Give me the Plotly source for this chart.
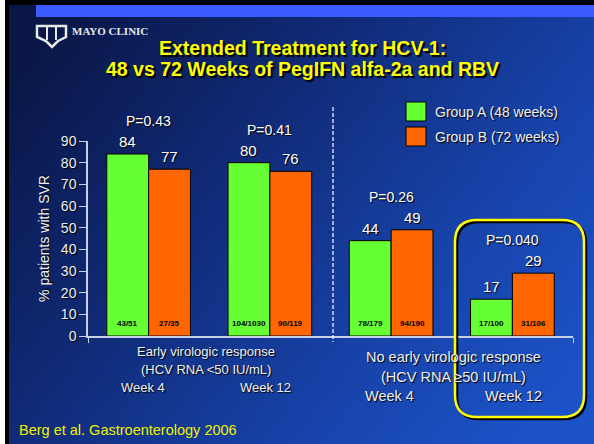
import base64
import plotly.graph_objects as go

# ---------------- data ----------------
groups = ["EVR Week 4", "EVR Week 12", "No EVR Week 4", "No EVR Week 12"]
series_names = ["Group A (48 weeks)", "Group B (72 weeks)"]
group_a = [84, 80, 44, 17]
group_b = [77, 76, 49, 29]
frac_a = ["43/51", "104/1030", "78/179", "17/100"]
frac_b = ["27/35", "90/119", "94/190", "31/106"]
p_values = ["P=0.43", "P=0.41", "P=0.26", "P=0.040"]
y_ticks = [0, 10, 20, 30, 40, 50, 60, 70, 80, 90]
xpos = [0, 1, 2, 3]

GREEN = "#66ff33"
ORANGE = "#ff6600"
FONT = "Arial, Liberation Sans, sans-serif"
SHADOW = "1px 1px 1px #000000"

W, H = 594, 444
L, R, T, B = 88, 21, 141, 108
PW, PH = W - L - R, H - T - B


def px(x):
    return (x - L) / PW


def py(y):
    return (H - B - y) / PH


bargap = 0.31
off = (1 - bargap) / 4

fig = go.Figure()
fig.add_trace(go.Bar(x=xpos, y=group_a, name=series_names[0],
                     marker=dict(color=GREEN, line=dict(color="#000000", width=1)),
                     showlegend=False))
fig.add_trace(go.Bar(x=xpos, y=group_b, name=series_names[1],
                     marker=dict(color=ORANGE, line=dict(color="#000000", width=1)),
                     showlegend=False))

ann = []
for i, x in enumerate(xpos):
    for val, frac, dx in ((group_a[i], frac_a[i], -off), (group_b[i], frac_b[i], off)):
        ann.append(dict(x=x + dx, y=val, xref="x", yref="y", text=str(val),
                        showarrow=False, yanchor="bottom", yshift=2,
                        font=dict(family=FONT, size=15, color="#ffffff", shadow=SHADOW)))
        ann.append(dict(x=x + dx, y=0, xref="x", yref="y", text="<b>%s</b>" % frac,
                        showarrow=False, yanchor="middle", yshift=13,
                        font=dict(family=FONT, size=8, color="#000000")))
    ann.append(dict(x=x, y=max(group_a[i], group_b[i]), xref="x", yref="y",
                    text=p_values[i], showarrow=False, yanchor="middle", yshift=33,
                    font=dict(family=FONT, size=14, color="#ffffff", shadow=SHADOW)))


def ptext(x, y, text, size, color="#ffffff", xanchor="center", shadow=SHADOW, family=FONT):
    ann.append(dict(x=px(x), y=py(y), xref="paper", yref="paper", text=text,
                    showarrow=False, xanchor=xanchor, yanchor="middle",
                    font=dict(family=family, size=size, color=color, shadow=shadow)))


# titles
ptext(302, 48, "<b>Extended Treatment for HCV-1:</b>", 19.5, "#ffff00", shadow="2px 2px 1px #000000")
ptext(302, 69, "<b>48 vs 72 Weeks of PegIFN alfa-2a and RBV</b>", 19.5, "#ffff00", shadow="2px 2px 1px #000000")
# logo text
ptext(70, 31, "<b>MAYO CLINIC</b>", 11, "#e8e8e8", xanchor="left", shadow="none",
      family="Liberation Serif, DejaVu Serif, serif")
# category labels
ptext(206, 351, "Early virologic response", 13, "#f0f0f0")
ptext(206, 369, "(HCV RNA &lt;50 IU/mL)", 13, "#f0f0f0")
ptext(143, 387, "Week 4", 13, "#f0f0f0")
ptext(265, 387, "Week 12", 13, "#f0f0f0")
ptext(453, 357, "No early virologic response", 14.5, "#f0f0f0")
ptext(453, 377, "(HCV RNA \u226550 IU/mL)", 14.5, "#f0f0f0")
ptext(389, 396, "Week 4", 14.5, "#f0f0f0")
ptext(513, 396, "Week 12", 14.5, "#f0f0f0")
# legend text
ptext(433, 112, series_names[0], 14, "#f0f0f0", xanchor="left")
ptext(433, 137, series_names[1], 14, "#f0f0f0", xanchor="left")
# footer
ptext(17, 430, "Berg et al. Gastroenterology 2006", 14.5, "#f0f000", xanchor="left", shadow="none")

shapes = []


def prect(x0, y0, x1, y1, fill, line=None, lw=0):
    shapes.append(dict(type="rect", xref="paper", yref="paper",
                       x0=px(x0), x1=px(x1), y0=py(y1), y1=py(y0),
                       fillcolor=fill, line=dict(color=line or fill, width=lw), layer="above"))


# legend swatches
prect(406, 102, 426, 121, GREEN, "#000000", 1)
prect(406, 127, 426, 146, ORANGE, "#000000", 1)

# dashed divider
shapes.append(dict(type="line", xref="paper", yref="paper", x0=px(333), x1=px(333),
                   y0=py(107), y1=py(342), line=dict(color="#ffffff", width=1.2, dash="4px,2px"),
                   layer="above"))


def rounded(x0, y0, x1, y1, r):
    pts = [
        "M %f,%f" % (px(x0 + r), py(y0)),
        "L %f,%f" % (px(x1 - r), py(y0)),
        "Q %f,%f %f,%f" % (px(x1), py(y0), px(x1), py(y0 + r)),
        "L %f,%f" % (px(x1), py(y1 - r)),
        "Q %f,%f %f,%f" % (px(x1), py(y1), px(x1 - r), py(y1)),
        "L %f,%f" % (px(x0 + r), py(y1)),
        "Q %f,%f %f,%f" % (px(x0), py(y1), px(x0), py(y1 - r)),
        "L %f,%f" % (px(x0), py(y0 + r)),
        "Q %f,%f %f,%f" % (px(x0), py(y0), px(x0 + r), py(y0)),
        "Z",
    ]
    return " ".join(pts)


shapes.append(dict(type="path", xref="paper", yref="paper", path=rounded(457, 222, 586, 419, 22),
                   line=dict(color="#000000", width=2.5), layer="above"))
shapes.append(dict(type="path", xref="paper", yref="paper", path=rounded(455, 220, 584, 417, 22),
                   line=dict(color="#ffff00", width=2.5), layer="above"))

# logo shield
shield = "M %f,%f L %f,%f L %f,%f L %f,%f L %f,%f L %f,%f L %f,%f Z" % (
    px(37), py(26), px(66), py(26), px(66), py(37), px(58), py(41), px(52), py(47),
    px(46), py(41), px(37), py(37))
shapes.append(dict(type="path", xref="paper", yref="paper", path=shield,
                   line=dict(color="#e8e8e8", width=2.5), layer="above"))
for sx in (47, 56):
    shapes.append(dict(type="line", xref="paper", yref="paper", x0=px(sx), x1=px(sx),
                       y0=py(27), y1=py(40), line=dict(color="#e8e8e8", width=2), layer="above"))

# background
svg = (
    '<svg xmlns="http://www.w3.org/2000/svg" width="594" height="444" viewBox="0 0 594 444" '
    'preserveAspectRatio="none">'
    '<defs><linearGradient id="g" x1="0" y1="0.2" x2="1" y2="0.8">'
    '<stop offset="0" stop-color="#0a1646"/>'
    '<stop offset="0.35" stop-color="#102a76"/>'
    '<stop offset="0.7" stop-color="#1742a8"/>'
    '<stop offset="1" stop-color="#1c52c8"/>'
    '</linearGradient></defs>'
    '<rect width="594" height="444" fill="url(#g)"/>'
    '<rect x="0" y="0" width="594" height="5" fill="#000000"/>'
    '<rect x="36" y="5" width="558" height="12" fill="#3a5cff"/>'
    '<rect x="0" y="0" width="5" height="444" fill="#ffffff"/>'
    '<rect x="5" y="0" width="4" height="444" fill="#000000"/>'
    '</svg>'
)
src = "data:image/svg+xml;base64," + base64.b64encode(svg.encode()).decode()

fig.update_layout(
    width=W, height=H, autosize=False,
    margin=dict(l=L, r=R, t=T, b=B, pad=0),
    paper_bgcolor="#102a76", plot_bgcolor="rgba(0,0,0,0)",
    barmode="group", bargap=bargap, bargroupgap=0,
    showlegend=False,
    annotations=ann, shapes=shapes,
    images=[dict(source=src, xref="paper", yref="paper", x=-L / PW, y=1 + T / PH,
                 sizex=W / PW, sizey=H / PH, xanchor="left", yanchor="top",
                 sizing="stretch", layer="below")],
    xaxis=dict(range=[-0.5, 3.5], tickvals=[-0.5, 3.5], ticktext=["", ""], ticks="outside",
               ticklen=5, tickcolor="#c8d0e8", showgrid=False, zeroline=False,
               showline=True, linecolor="#c8d0e8", linewidth=1.5, fixedrange=True),
    yaxis=dict(range=[0, 90], tickvals=y_ticks, ticks="outside", ticklen=7, tickcolor="#c8d0e8",
               showgrid=False, zeroline=False, showline=True, linecolor="#c8d0e8", linewidth=1.5,
               tickfont=dict(family=FONT, size=14, color="#f0f0f0", shadow=SHADOW),
               title=dict(text="% patients with SVR", standoff=8,
                          font=dict(family=FONT, size=14, color="#f0f0f0", shadow=SHADOW)),
               fixedrange=True),
)

fig.write_html("out.html", config={"displayModeBar": False},
               post_script="document.body.style.margin='0';document.body.style.overflow='hidden';")
